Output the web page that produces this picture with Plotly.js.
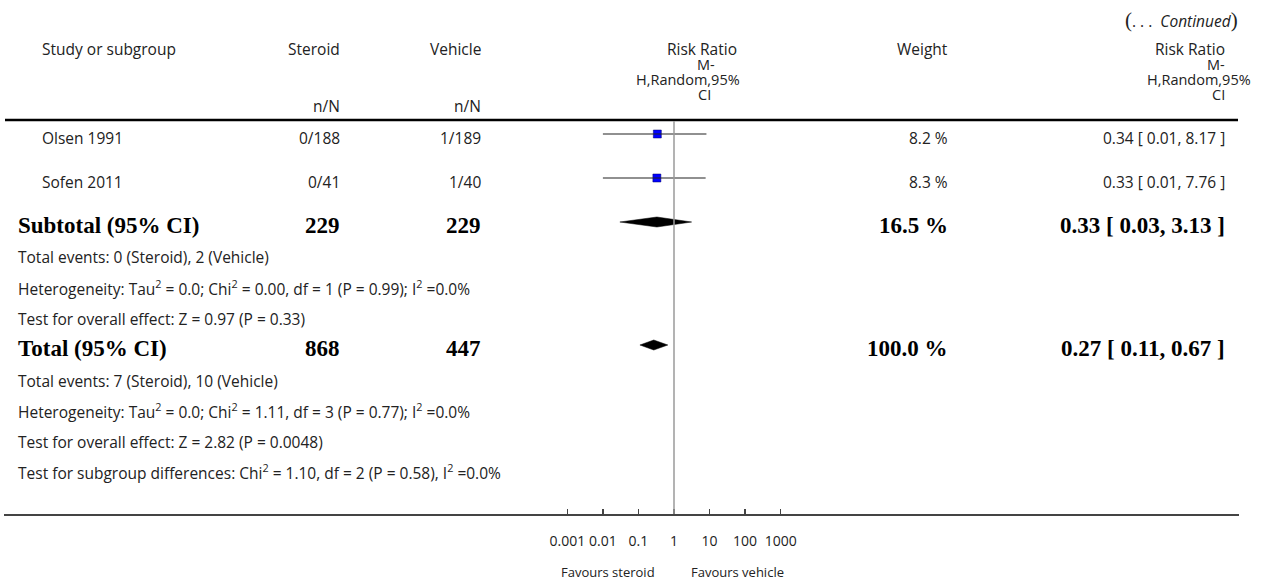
<!DOCTYPE html>
<html>
<head>
<meta charset="utf-8">
<script src="https://cdn.plot.ly/plotly-3.0.1.min.js"></script>
<style>html,body{margin:0;padding:0;background:#fff;} #chart{width:1268px;height:586px;}</style>
</head>
<body>
<div id="chart"></div>
<script>
// ---------------- DATA ----------------
const studies = ['Olsen 1991', 'Sofen 2011'];
const steroidNN = ['0/188', '0/41'];
const vehicleNN = ['1/189', '1/40'];
const studyRR = [0.34, 0.33];
const studyLo = [0.01, 0.01];
const studyHi = [8.17, 7.76];
const studyWeight = [8.2, 8.3];

const subtotalLabel = 'Subtotal (95% CI)';
const subtotalN = [229, 229];
const subtotalRR = [0.33, 0.03, 3.13];
const subtotalWeight = 16.5;
const subtotalNotes = [
  'Total events: 0 (Steroid), 2 (Vehicle)',
  'Heterogeneity: Tau<sup>2</sup> = 0.0; Chi<sup>2</sup> = 0.00, df = 1 (P = 0.99); I<sup>2</sup> =0.0%',
  'Test for overall effect: Z = 0.97 (P = 0.33)'
];

const totalLabel = 'Total (95% CI)';
const totalN = [868, 447];
const totalRR = [0.27, 0.11, 0.67];
const totalWeight = 100.0;
const totalNotes = [
  'Total events: 7 (Steroid), 10 (Vehicle)',
  'Heterogeneity: Tau<sup>2</sup> = 0.0; Chi<sup>2</sup> = 1.11, df = 3 (P = 0.77); I<sup>2</sup> =0.0%',
  'Test for overall effect: Z = 2.82 (P = 0.0048)',
  'Test for subgroup differences: Chi<sup>2</sup> = 1.10, df = 2 (P = 0.58), I<sup>2</sup> =0.0%'
];

const tickVals = [0.001, 0.01, 0.1, 1, 10, 100, 1000];
const tickText = ['0.001', '0.01', '0.1', '1', '10', '100', '1000'];
const favoursLeft = 'Favours steroid';
const favoursRight = 'Favours vehicle';

// ---------------- LAYOUT HELPERS ----------------
const W = 1268, H = 586, PLOT_BOTTOM = 514;
const SANS = 'Open Sans, Lato, sans-serif';
const SERIF = 'Liberation Serif, Times New Roman, serif';
const TXT = '#222';
const px = v => v / W;                 // pixel -> paper x
const f2 = v => v.toFixed(2);

// log axis: 1 at x=674, 35.55 px per decade, axis line 4..1239
const ONE_X = 674, DEC = 35.55, AX_L = 4, AX_R = 1239;
const xRange = [(AX_L - ONE_X) / DEC, (AX_R - ONE_X) / DEC];

// row positions (pixel units on reversed y axis)
const studyRowY = i => 134 + i * 44;
const subtotalY = 222;
const subtotalNoteY = i => 257 + i * 31;
const totalY = 345;
const totalNoteY = i => 381 + i * 30.3;

const traces = [];
const annotations = [];
const shapes = [];

// annotation box padding compensation (~2px)
function ann(text, x, y, anchor, font) {
  const dx = anchor === 'left' ? -2 : (anchor === 'right' ? 2 : 0);
  annotations.push({
    text: text, xref: 'paper', yref: 'y', x: px(x + dx), y: y,
    xanchor: anchor, yanchor: 'middle', showarrow: false,
    font: font, align: anchor === 'center' ? 'center' : anchor
  });
}
const reg = {family: SANS, size: 15.5, color: TXT};
const stack = {family: SANS, size: 14.5, color: TXT};
const bold = {family: SERIF, size: 23, color: '#000', weight: 'bold'};

// header
ann('<span style="font-family:Liberation Serif;font-size:21px">(</span>. . .  <i>Continued</i><span style="font-family:Liberation Serif;font-size:21px">)</span>',
    1238, 20, 'right', {family: SANS, size: 15.5, color: TXT});
ann('Study or subgroup', 42, 49, 'left', reg);
ann('Steroid', 340, 49, 'right', reg);
ann('Vehicle', 481, 49, 'right', reg);
ann('n/N', 340, 106, 'right', reg);
ann('n/N', 481, 106, 'right', reg);
ann('Weight', 948, 49, 'right', reg);
ann('Risk Ratio', 702, 49, 'center', reg);
ann('M-', 706, 64, 'center', stack);
ann('H,Random,95%', 688, 79, 'center', stack);
ann('CI', 704, 94, 'center', stack);
ann('Risk Ratio', 1225, 49, 'right', reg);
ann('M-', 1225, 64, 'right', stack);
ann('H,Random,95%', 1251, 79, 'right', stack);
ann('CI', 1225, 94, 'right', stack);

// header rule
shapes.push({type: 'line', xref: 'paper', yref: 'y', x0: px(5), x1: px(1238), y0: 120, y1: 120,
  line: {color: '#000', width: 2.5}});
// line of no effect
shapes.push({type: 'line', xref: 'x', yref: 'y', x0: 1, x1: 1, y0: 121, y1: PLOT_BOTTOM,
  line: {color: '#9a9a9a', width: 1.5}});

// study rows
studies.forEach((s, i) => {
  const y = studyRowY(i);
  ann(s, 42, y + 4, 'left', reg);
  ann(steroidNN[i], 340, y + 4, 'right', reg);
  ann(vehicleNN[i], 481, y + 4, 'right', reg);
  ann(studyWeight[i].toFixed(1) + ' %', 948, y + 4, 'right', reg);
  ann(f2(studyRR[i]) + ' [ ' + f2(studyLo[i]) + ', ' + f2(studyHi[i]) + ' ]', 1225, y + 4, 'right', reg);
  traces.push({x: [studyRR[i]], y: [y], type: 'scatter', mode: 'markers', hoverinfo: 'skip',
    marker: {symbol: 'square', size: 8, color: '#0000ff', line: {width: 0.5, color: '#000066'}}});
  traces.push({x: [studyLo[i], studyHi[i]], y: [y, y], type: 'scatter', mode: 'lines', hoverinfo: 'skip',
    line: {color: '#222', width: 1.2}});
});

function diamond(vals, y, h) {
  traces.push({x: [vals[1], vals[0], vals[2], vals[0], vals[1]], y: [y, y - h, y, y + h, y],
    type: 'scatter', mode: 'lines', fill: 'toself', fillcolor: '#000', hoverinfo: 'skip',
    line: {color: '#000', width: 0.5}});
}

// subtotal
ann(subtotalLabel, 18, subtotalY + 3, 'left', bold);
ann(String(subtotalN[0]), 340, subtotalY + 3, 'right', bold);
ann(String(subtotalN[1]), 481, subtotalY + 3, 'right', bold);
ann(subtotalWeight.toFixed(1) + ' %', 948, subtotalY + 3, 'right', bold);
ann(f2(subtotalRR[0]) + ' [ ' + f2(subtotalRR[1]) + ', ' + f2(subtotalRR[2]) + ' ]', 1225, subtotalY + 3, 'right', bold);
diamond(subtotalRR, subtotalY, 5);
subtotalNotes.forEach((t, i) => ann(t, 18, subtotalNoteY(i), 'left', reg));

// total
ann(totalLabel, 18, totalY + 3, 'left', bold);
ann(String(totalN[0]), 340, totalY + 3, 'right', bold);
ann(String(totalN[1]), 481, totalY + 3, 'right', bold);
ann(totalWeight.toFixed(1) + ' %', 948, totalY + 3, 'right', bold);
ann(f2(totalRR[0]) + ' [ ' + f2(totalRR[1]) + ', ' + f2(totalRR[2]) + ' ]', 1225, totalY + 3, 'right', bold);
diamond(totalRR, totalY, 5);
totalNotes.forEach((t, i) => ann(t, 18, totalNoteY(i), 'left', reg));

// favours labels
const favFont = {family: SANS, size: 13, color: TXT};
const favY = -(572 - PLOT_BOTTOM) / PLOT_BOTTOM;
annotations.push({text: favoursLeft, xref: 'paper', yref: 'paper', x: px(608), y: favY,
  xanchor: 'center', yanchor: 'middle', showarrow: false, font: favFont});
annotations.push({text: favoursRight, xref: 'paper', yref: 'paper', x: px(737), y: favY,
  xanchor: 'center', yanchor: 'middle', showarrow: false, font: favFont});

const layout = {
  width: W, height: H,
  margin: {l: 0, r: 0, t: 0, b: H - PLOT_BOTTOM, pad: 0},
  paper_bgcolor: '#fff', plot_bgcolor: '#fff',
  showlegend: false,
  xaxis: {
    type: 'log', domain: [px(AX_L), px(AX_R)], range: xRange, fixedrange: true,
    showgrid: false, zeroline: false, showline: true, linecolor: '#444', linewidth: 2,
    ticks: 'inside', ticklen: 5, tickcolor: '#444', tickwidth: 1.5,
    tickmode: 'array', tickvals: tickVals, ticktext: tickText,
    tickfont: {family: SANS, size: 14, color: TXT}, ticklabelstandoff: 13
  },
  yaxis: {range: [PLOT_BOTTOM, 0], visible: false, fixedrange: true, showgrid: false, zeroline: false},
  annotations: annotations,
  shapes: shapes
};

Plotly.newPlot('chart', traces, layout, {staticPlot: true, displayModeBar: false});
</script>
</body>
</html>
